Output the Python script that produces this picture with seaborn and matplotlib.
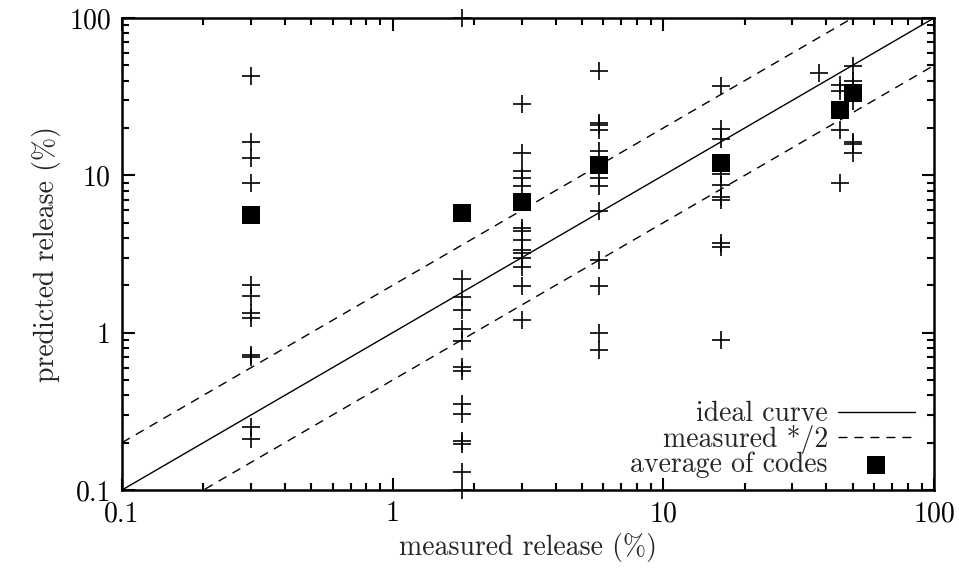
import numpy as np
import pandas as pd
import matplotlib
matplotlib.use("Agg")
import matplotlib.pyplot as plt
import seaborn as sns
from matplotlib.ticker import FixedLocator, FixedFormatter, NullFormatter, LogLocator

# ---- data ----
x_03 = [0.3]
y_03 = [43, 16.4, 12.8, 9.0, 2.0, 1.7, 1.33, 1.24, 0.72, 0.70, 0.25, 0.21]
x_18 = [1.8]
y_18 = [100, 2.19, 1.68, 1.40, 1.06, 0.88, 0.605, 0.574, 0.352, 0.305, 0.204, 0.196, 0.131, 0.1]
x_30 = [3.0]
y_30 = [28.2, 13.9, 10.6, 9.6, 8.5, 4.63, 4.41, 3.90, 3.37, 3.21, 2.98, 2.60, 1.99, 1.21]
x_58 = [5.8]
y_58 = [45.8, 21.5, 21.0, 19.3, 14.3, 9.6, 8.5, 5.97, 2.91, 1.99, 1.0, 0.78]
x_164 = [16.4]
y_164 = [37.2, 19.7, 16.9, 10.2, 8.7, 7.3, 7.0, 3.7, 3.5, 0.9]
x_377 = [37.7]
y_377 = [45]
x_45 = [45]
y_45 = [37.7, 34.2, 19.5, 8.95]
x_50 = [50]
y_50 = [49.8, 39.6, 37.7, 29.5, 16.4, 15.8, 13.9]

avg_x = [0.3, 1.8, 3.0, 5.8, 16.4, 45, 50]
avg_y = [5.6, 5.77, 6.78, 11.6, 12.0, 26.2, 33.4]

line_x = [0.1, 100]
ideal_y = [0.1, 100]
upper_y = [0.2, 200]
lower_y = [0.05, 50]

tick_vals = [0.1, 1, 10, 100]
tick_labels = ["0.1", "1", "10", "100"]

groups = [(x_03, y_03), (x_18, y_18), (x_30, y_30), (x_58, y_58),
          (x_164, y_164), (x_377, y_377), (x_45, y_45), (x_50, y_50)]
pts = pd.DataFrame({
    "measured": [g[0][0] for g in groups for _ in g[1]],
    "predicted": [v for g in groups for v in g[1]],
})
avg = pd.DataFrame({"measured": avg_x, "predicted": avg_y})
lines = pd.DataFrame({"x": line_x, "ideal": ideal_y, "up": upper_y, "lo": lower_y})

sns.set_style("ticks")
plt.rcParams["font.family"] = ["cmr10", "DejaVu Serif"]
plt.rcParams["axes.formatter.use_mathtext"] = True

FS = 20

fig = plt.figure(figsize=(9.59, 5.73), dpi=100)
ax = fig.add_axes([122/959, 1-490/573, (934-122)/959, (490-18)/573])
ax.set_xscale("log")
ax.set_yscale("log")

sns.lineplot(data=lines, x="x", y="ideal", ax=ax, color="black", lw=1.0,
             label="ideal curve")
sns.lineplot(data=lines, x="x", y="up", ax=ax, color="black", lw=1.0,
             dashes=False, label="measured */2")
ax.lines[-1].set_dashes((6.5, 5))
sns.lineplot(data=lines, x="x", y="lo", ax=ax, color="black", lw=1.0)
ax.lines[-1].set_dashes((6.5, 5))

sns.scatterplot(data=pts, x="measured", y="predicted", ax=ax, marker="+",
                s=160, color="black", linewidth=1.2, clip_on=False, zorder=5)
sns.scatterplot(data=avg, x="measured", y="predicted", ax=ax, marker="s",
                s=150, color="black", edgecolor="black", linewidth=0,
                label="average of codes", zorder=4)

ax.set_xlim(0.1, 100)
ax.set_ylim(0.1, 100)

for axis in (ax.xaxis, ax.yaxis):
    axis.set_major_locator(FixedLocator(tick_vals))
    axis.set_major_formatter(FixedFormatter(tick_labels))
    axis.set_minor_locator(LogLocator(base=10, subs=np.arange(2, 10)))
    axis.set_minor_formatter(NullFormatter())

ax.tick_params(which="both", direction="in", top=True, right=True,
               labelsize=FS, width=1.5, color="black", labelcolor="black")
ax.tick_params(which="major", length=9, pad=8)
ax.tick_params(which="minor", length=5)
for s in ax.spines.values():
    s.set_visible(True)
    s.set_linewidth(1.8)
    s.set_color("black")

ax.set_xlabel("measured release (%)", fontsize=FS, labelpad=4)
ax.set_ylabel("predicted release (%)", fontsize=FS, labelpad=6)

leg = ax.legend(loc="lower right", frameon=False, markerfirst=False,
                fontsize=FS, handlelength=2.77, handletextpad=0.36,
                labelspacing=-0.09, borderaxespad=0.0,
                bbox_to_anchor=(1 - 8/812, 1/472))

fig.savefig("out.png", dpi=100)
